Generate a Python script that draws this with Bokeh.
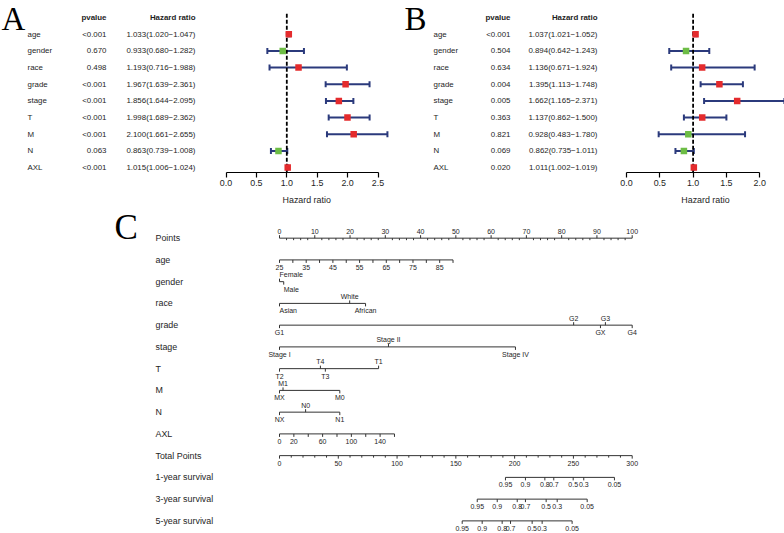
from bokeh.plotting import figure
from bokeh.models import (Range1d, ColumnDataSource, Whisker, TeeHead, FixedTicker,
                          PrintfTickFormatter)
from bokeh.layouts import column, row
from bokeh.core.properties import value
from bokeh.embed import file_html
from bokeh.resources import INLINE

# ---------------- data: forest plots ----------------
variables = ["age", "gender", "race", "grade", "stage", "T", "M", "N", "AXL"]

pval_A = ["<0.001", "0.670", "0.498", "<0.001", "<0.001", "<0.001", "<0.001", "0.063", "<0.001"]
hr_A = [1.033, 0.933, 1.193, 1.967, 1.856, 1.998, 2.100, 0.863, 1.015]
lo_A = [1.020, 0.680, 0.716, 1.639, 1.644, 1.689, 1.661, 0.739, 1.006]
hi_A = [1.047, 1.282, 1.988, 2.361, 2.095, 2.362, 2.655, 1.008, 1.024]

pval_B = ["<0.001", "0.504", "0.634", "0.004", "0.005", "0.363", "0.821", "0.069", "0.020"]
hr_B = [1.037, 0.894, 1.136, 1.395, 1.662, 1.137, 0.928, 0.862, 1.011]
lo_B = [1.021, 0.642, 0.671, 1.113, 1.165, 0.862, 0.483, 0.735, 1.002]
hi_B = [1.052, 1.243, 1.924, 1.748, 2.371, 1.500, 1.780, 1.011, 1.019]

ticks_A = [0.0, 0.5, 1.0, 1.5, 2.0, 2.5]
ticks_B = [0.0, 0.5, 1.0, 1.5, 2.0]
null_hr = 1.0

# ---------------- data: nomogram ----------------
nomo_rows = ["Points", "age", "gender", "race", "grade", "stage", "T", "M", "N", "AXL",
             "Total Points", "1-year survival", "3-year survival", "5-year survival"]

points_major = [0, 10, 20, 30, 40, 50, 60, 70, 80, 90, 100]
points_minor = list(range(0, 101, 2))

age_ticks = [25, 30, 35, 40, 45, 50, 55, 60, 65, 70, 75, 80, 85, 90]
age_labels = [25, 35, 45, 55, 65, 75, 85]
age_domain = (25, 90)
age_points = (0.0, 49.2)

gender_labels = ["Female", "Male"]
gender_pts = [0.0, 1.2]
gender_up = [True, False]
gender_align = ["left", "left"]

race_labels = ["Asian", "White", "African"]
race_pts = [0.0, 19.9, 24.4]
race_up = [False, True, False]
race_align = ["left", "center", "center"]

grade_labels = ["G1", "G2", "GX", "G3", "G4"]
grade_pts = [0.0, 83.4, 91.0, 92.4, 100.0]
grade_up = [False, True, False, True, False]

stage_labels = ["Stage I", "Stage II", "Stage IV"]
stage_pts = [0.0, 30.9, 66.9]
stage_up = [False, True, False]

T_labels = ["T2", "T4", "T3", "T1"]
T_pts = [0.0, 11.6, 13.0, 28.1]
T_up = [False, True, False, True]

M_labels = ["MX", "M1", "M0"]
M_pts = [0.0, 1.0, 17.1]
M_up = [False, True, False]

N_labels = ["NX", "N0", "N1"]
N_pts = [0.0, 7.4, 17.1]
N_up = [False, True, False]

axl_ticks = [0, 20, 40, 60, 80, 100, 120, 140, 160]
axl_labels = [0, 20, 60, 100, 140]
axl_domain = (0, 160)
axl_points = (0.0, 32.6)

total_major = [0, 50, 100, 150, 200, 250, 300]
total_minor = list(range(0, 301, 10))

surv_labels = ["0.95", "0.9", "0.8", "0.7", "0.5", "0.3", "0.05"]
surv_1y = [192.2, 209.2, 225.7, 233.3, 249.8, 258.8, 284.9]
surv_3y = [168.2, 185.2, 202.2, 209.2, 226.8, 236.2, 261.7]
surv_5y = [155.4, 172.4, 189.4, 196.5, 214.9, 223.4, 248.9]

# ---------------- styling / geometry ----------------
FONT = "Liberation Sans"
SERIF = "Liberation Serif"
TXT = "#1e1e1e"
RED = "#e42b2d"
GREEN = "#6dbd45"
NAVY = "#2b3a7c"
LINE = "#333333"

W, H = 784, 533
SX = W / 784.0
SY = H / 536.0
H1 = 193
WA = 395
WB = W - WA
H2 = H - H1
AXIS_REF_Y = 173.0
BOT = H1 - round(AXIS_REF_Y * SY)

SCALE_A = (225.5, 60.8)   # page px of HR 0, px per HR unit
SCALE_B = (626.0, 66.6)


def ry(y):
    return (y - 34.0) / 16.75


def forest(width, x0_ref, scale, hr, lo, hi, pvals, ticks, letter, letter_xy, cols):
    a, b = scale
    x1_ref = x0_ref + width / SX
    xr = Range1d((x0_ref - a) / b, (x1_ref - a) / b)
    p = figure(width=width, height=H1, x_range=xr,
               y_range=Range1d(ry((H1 - BOT) / SY), ry(0)),
               output_backend="svg", toolbar_location=None, y_axis_type=None,
               min_border_left=0, min_border_right=0, min_border_top=0,
               min_border_bottom=BOT)
    p.outline_line_color = None
    p.grid.visible = False
    p.background_fill_color = "white"
    p.border_fill_color = "white"

    def hx(r):
        return (r - a) / b

    n = len(variables)
    ys = list(range(n))
    colors = [RED if h >= null_hr else GREEN for h in hr]
    hr_txt = [f"{h:.3f}({l:.3f}\u2212{u:.3f})" for h, l, u in zip(hr, lo, hi)]
    src = ColumnDataSource(dict(y=ys, hr=hr, lo=lo, hi=hi, color=colors,
                                var=variables, p=pvals, txt=hr_txt))
    fs = "7.9px"
    tkw = dict(text_font=value(FONT), text_font_size=fs, text_color=TXT,
               text_baseline="middle")
    # table
    p.text(x=hx(cols[0]), y="y", text="var", source=src, text_align="left", **tkw)
    p.text(x=hx(cols[1]), y="y", text="p", source=src, text_align="right", **tkw)
    p.text(x=hx(cols[2]), y="y", text="txt", source=src, text_align="right", **tkw)
    p.text(x=[hx(cols[1]), hx(cols[2])], y=[-1, -1], text=["pvalue", "Hazard ratio"],
           text_align="right", text_font_style="bold", **tkw)
    # panel letter
    p.text(x=[hx(letter_xy[0])], y=[ry(letter_xy[1])], text=[letter],
           text_font=value(SERIF), text_font_size="33px", text_color="black",
           text_align="left", text_baseline="middle")
    # whiskers
    w = Whisker(source=src, base="y", lower="lo", upper="hi", dimension="width",
                line_color=NAVY, line_width=2,
                lower_head=TeeHead(size=6, line_color=NAVY, line_width=2),
                upper_head=TeeHead(size=6, line_color=NAVY, line_width=2))
    p.add_layout(w)
    # reference line
    p.segment(x0=[null_hr], y0=[ry(13.3)], x1=[null_hr], y1=[ry(AXIS_REF_Y)],
              line_color="black", line_width=1.8, line_dash="4 2")
    # squares
    p.scatter(x="hr", y="y", source=src, marker="square", size=6.5,
              fill_color="color", line_color=None)
    # axis
    ax = p.xaxis[0]
    ax.ticker = FixedTicker(ticks=ticks)
    ax.formatter = PrintfTickFormatter(format="%.1f")
    ax.bounds = (ticks[0], ticks[-1])
    ax.major_tick_in = 0
    ax.major_tick_out = 5
    ax.minor_tick_in = 0
    ax.minor_tick_out = 0
    ax.axis_line_color = "black"
    ax.axis_line_width = 1.2
    ax.major_tick_line_color = "black"
    ax.major_tick_line_width = 1.2
    ax.major_label_text_font = FONT
    ax.major_label_text_font_size = "8.9px"
    ax.major_label_text_color = TXT
    ax.major_label_standoff = 2
    return p


pA = forest(WA, 0.0, SCALE_A, hr_A, lo_A, hi_A, pval_A, ticks_A,
            "A", (1.0, 18.3), (27.0, 106.0, 195.0))
pB = forest(WB, WA / SX, SCALE_B, hr_B, lo_B, hi_B, pval_B, ticks_B,
            "B", (404.0, 18.3), (433.0, 510.0, 597.0))

# ---------------- nomogram (also carries the forest x-axis titles) ----------------
P0, PPX = 279.0, 3.527


def npx(xr):
    return (xr - P0) / PPX


def ny(yr):
    return (yr - 239.0) / 21.87


pC = figure(width=W, height=H2,
            x_range=Range1d(npx(0), npx(784)),
            y_range=Range1d(ny(H / SY), ny(H1 / SY)),
            output_backend="svg", toolbar_location=None,
            x_axis_type=None, y_axis_type=None, min_border=0,
            min_border_left=0, min_border_right=0, min_border_top=0, min_border_bottom=0)
pC.outline_line_color = None
pC.grid.visible = False
pC.extra_x_ranges = {
    "tot": Range1d(npx(0) * 3, npx(784) * 3),
    "hrA": Range1d((0 - SCALE_A[0]) / SCALE_A[1], (784 - SCALE_A[0]) / SCALE_A[1]),
    "hrB": Range1d((0 - SCALE_B[0]) / SCALE_B[1], (784 - SCALE_B[0]) / SCALE_B[1]),
}

# x-axis titles of the forest plots, centred over 0 .. max upper CI
for rng, hi in [("hrA", hi_A), ("hrB", hi_B)]:
    pC.text(x=[max(hi) / 2.0], y=[ny(200.5)], text=["Hazard ratio"], text_align="center",
            text_baseline="middle", text_font=value(FONT), text_font_size="8.9px",
            text_color=TXT, x_range_name=rng)

ROWPX = 21.87 * SY


def rpx(px):
    return px / ROWPX


T_MAJ = rpx(3.0)
T_MIN = rpx(2.0)
LAB_DN = rpx(7.5 * SY)
LAB_UP = rpx(7.0 * SY)
LBL_FS = "7.0px"


def hline(r, x0, x1, rng="default"):
    pC.segment(x0=[x0], y0=[r], x1=[x1], y1=[r], line_color=LINE, line_width=1,
               x_range_name=rng)


def tick_marks(r, xs, up, length, rng="default"):
    y1 = [r - length if u else r + length for u in up]
    pC.segment(x0=xs, y0=[r] * len(xs), x1=xs, y1=y1, line_color=LINE,
               line_width=1, x_range_name=rng)


def tick_labels(r, xs, texts, up, rng="default", align=None):
    ys = [r - LAB_UP if u else r + LAB_DN for u in up]
    al = align if align is not None else ["center"] * len(xs)
    src = ColumnDataSource(dict(x=xs, y=ys, t=[str(t) for t in texts], al=al))
    pC.text(x="x", y="y", text="t", text_align="al", source=src,
            text_baseline="middle", text_font=value(FONT), text_font_size=LBL_FS,
            text_color=TXT, x_range_name=rng)


def lin(vals, domain, pts):
    return [pts[0] + (v - domain[0]) * (pts[1] - pts[0]) / (domain[1] - domain[0]) for v in vals]


# row labels
rows_idx = list(range(len(nomo_rows)))
pC.text(x=[npx(155)] * len(nomo_rows), y=rows_idx, text=nomo_rows, text_align="left",
        text_baseline="middle", text_font=value(FONT), text_font_size="8.9px",
        text_color=TXT)
pC.text(x=[npx(114)], y=[ny(228.3)], text=["C"], text_font=value(SERIF),
        text_font_size="35px", text_color="black", text_align="left",
        text_baseline="middle")

# Points
hline(0, points_major[0], points_major[-1])
minor_only = [v for v in points_minor if v not in points_major]
tick_marks(0, minor_only, [False] * len(minor_only), T_MIN)
tick_marks(0, points_major, [True] * len(points_major), T_MAJ)
tick_labels(0, points_major, points_major, [True] * len(points_major))

# age
age_tick_pts = lin(age_ticks, age_domain, age_points)
hline(1, min(age_tick_pts), max(age_tick_pts))
tick_marks(1, age_tick_pts, [False] * len(age_tick_pts), T_MAJ)
tick_labels(1, lin(age_labels, age_domain, age_points), age_labels, [False] * len(age_labels))

# categorical rows
for r, labs, pts, up, al in [(2, gender_labels, gender_pts, gender_up, gender_align),
                             (3, race_labels, race_pts, race_up, race_align),
                             (4, grade_labels, grade_pts, grade_up, None),
                             (5, stage_labels, stage_pts, stage_up, None),
                             (6, T_labels, T_pts, T_up, None),
                             (7, M_labels, M_pts, M_up, None),
                             (8, N_labels, N_pts, N_up, None)]:
    hline(r, min(pts), max(pts))
    tick_marks(r, pts, up, T_MAJ)
    tick_labels(r, pts, labs, up, align=al)

# AXL
axl_tick_pts = lin(axl_ticks, axl_domain, axl_points)
hline(9, min(axl_tick_pts), max(axl_tick_pts))
tick_marks(9, axl_tick_pts, [False] * len(axl_tick_pts), T_MAJ)
tick_labels(9, lin(axl_labels, axl_domain, axl_points), axl_labels, [False] * len(axl_labels))

# Total points
hline(10, total_major[0], total_major[-1], "tot")
tmin = [v for v in total_minor if v not in total_major]
tick_marks(10, tmin, [False] * len(tmin), T_MIN, "tot")
tick_marks(10, total_major, [False] * len(total_major), T_MAJ, "tot")
tick_labels(10, total_major, total_major, [False] * len(total_major), "tot")

# survival rows
for r, pos in [(11, surv_1y), (12, surv_3y), (13, surv_5y)]:
    hline(r, min(pos), max(pos), "tot")
    tick_marks(r, pos, [False] * len(pos), T_MAJ, "tot")
    tick_labels(r, pos, surv_labels, [False] * len(pos), "tot")

layout = column(row(pA, pB), pC)
open("out.html", "w").write(file_html(layout, INLINE))
